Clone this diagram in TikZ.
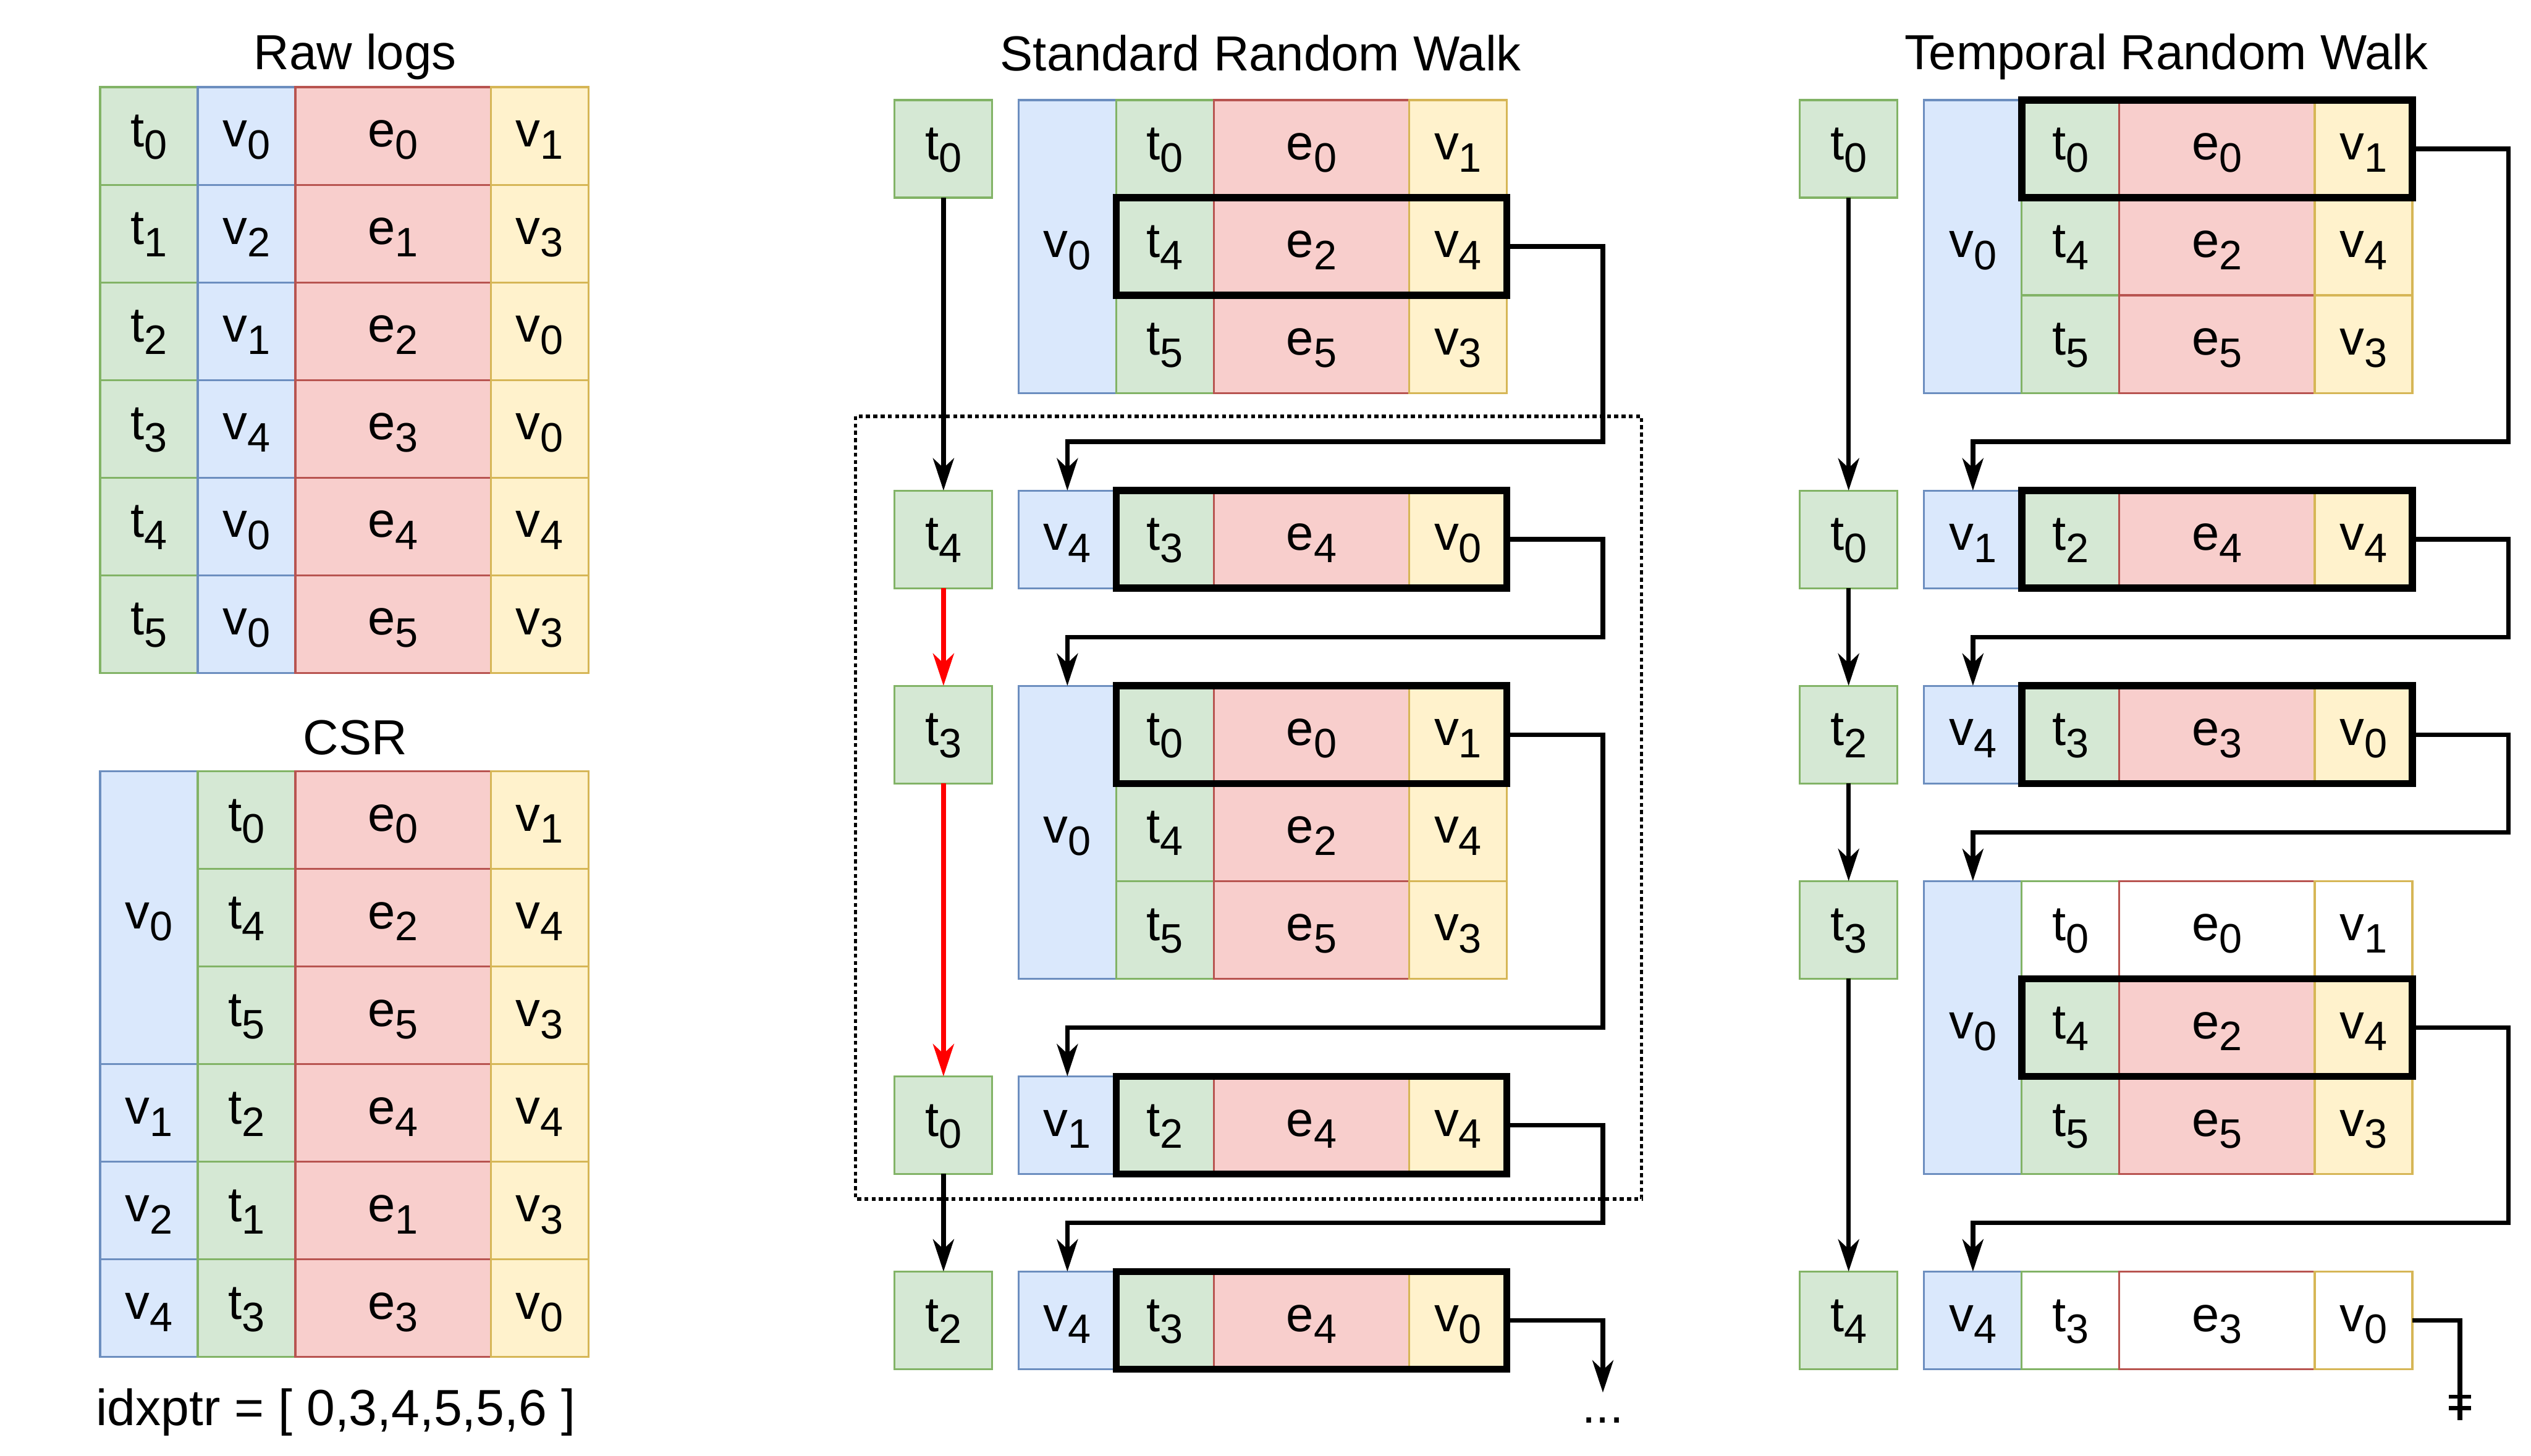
\documentclass[tikz,border=0pt]{standalone}
\usepackage{fontspec}
\setmainfont{Liberation Sans}
\usetikzlibrary{arrows.meta}

\definecolor{tfill}{HTML}{D5E8D4}
\definecolor{tline}{HTML}{82B366}
\definecolor{vfill}{HTML}{DAE8FC}
\definecolor{vline}{HTML}{6C8EBF}
\definecolor{efill}{HTML}{F8CECC}
\definecolor{eline}{HTML}{B85450}
\definecolor{ufill}{HTML}{FFF2CC}
\definecolor{uline}{HTML}{D6B656}

\newcommand{\lab}[2]{#1{\fontsize{25.5}{26}\selectfont\raisebox{-7.5pt}{#2}}}

\tikzset{
  cell/.style={rectangle, draw, line width=1.2pt, inner sep=0pt, outer sep=0pt,
    minimum width=60.5pt, minimum height=60.5pt, text height=21.5pt, text depth=8pt,
    font=\fontsize{30.5}{36}\selectfont},
  tcell/.style={cell, fill=tfill, draw=tline},
  scell/.style={cell, fill=vfill, draw=vline},
  ecell/.style={cell, fill=efill, draw=eline, minimum width=121pt},
  dcell/.style={cell, fill=ufill, draw=uline},
  hlbox/.style={rectangle, draw=black, line width=4.4pt, inner sep=0pt, outer sep=0pt,
    minimum width=242pt, minimum height=60.5pt},
  conn/.style={line width=2.8pt, -{Stealth[length=20pt,width=13pt,inset=6pt]}},
  title/.style={font=\fontsize{30.5}{36}\selectfont},
  dotframe/.style={line width=2pt, dash pattern=on 2.5pt off 2pt}
}

\begin{document}
\begin{tikzpicture}[x=1pt, y=-1pt]
\useasboundingbox (0,0) rectangle (1568,902);

% Titres
\node[title] (rawtitle) at (220,35) {Raw logs};
\node[title] (csrtitle) at (220,457) {CSR};
\node[title] (srwtitle) at (781,33) {Standard Random Walk};
\node[title] (trwtitle) at (1342,35) {Temporal Random Walk};

% Raw logs
\node[tcell] (r1t) at (92.25,84.25) {\lab{t}{0}};  \node[scell] (r1s) at (152.75,84.25) {\lab{v}{0}};
\node[ecell] (r1e) at (243.5,84.25) {\lab{e}{0}};  \node[dcell] (r1d) at (334.25,84.25) {\lab{v}{1}};
\node[tcell] (r2t) at (92.25,144.75) {\lab{t}{1}}; \node[scell] (r2s) at (152.75,144.75) {\lab{v}{2}};
\node[ecell] (r2e) at (243.5,144.75) {\lab{e}{1}}; \node[dcell] (r2d) at (334.25,144.75) {\lab{v}{3}};
\node[tcell] (r3t) at (92.25,205.25) {\lab{t}{2}}; \node[scell] (r3s) at (152.75,205.25) {\lab{v}{1}};
\node[ecell] (r3e) at (243.5,205.25) {\lab{e}{2}}; \node[dcell] (r3d) at (334.25,205.25) {\lab{v}{0}};
\node[tcell] (r4t) at (92.25,265.75) {\lab{t}{3}}; \node[scell] (r4s) at (152.75,265.75) {\lab{v}{4}};
\node[ecell] (r4e) at (243.5,265.75) {\lab{e}{3}}; \node[dcell] (r4d) at (334.25,265.75) {\lab{v}{0}};
\node[tcell] (r5t) at (92.25,326.25) {\lab{t}{4}}; \node[scell] (r5s) at (152.75,326.25) {\lab{v}{0}};
\node[ecell] (r5e) at (243.5,326.25) {\lab{e}{4}}; \node[dcell] (r5d) at (334.25,326.25) {\lab{v}{4}};
\node[tcell] (r6t) at (92.25,386.75) {\lab{t}{5}}; \node[scell] (r6s) at (152.75,386.75) {\lab{v}{0}};
\node[ecell] (r6e) at (243.5,386.75) {\lab{e}{5}}; \node[dcell] (r6d) at (334.25,386.75) {\lab{v}{3}};

% CSR
\node[scell, minimum height=181.5pt] (c1s) at (92.25,568.75) {\lab{v}{0}};
\node[tcell] (c1t) at (152.75,508.25) {\lab{t}{0}}; \node[ecell] (c1e) at (243.5,508.25) {\lab{e}{0}}; \node[dcell] (c1d) at (334.25,508.25) {\lab{v}{1}};
\node[tcell] (c2t) at (152.75,568.75) {\lab{t}{4}}; \node[ecell] (c2e) at (243.5,568.75) {\lab{e}{2}}; \node[dcell] (c2d) at (334.25,568.75) {\lab{v}{4}};
\node[tcell] (c3t) at (152.75,629.25) {\lab{t}{5}}; \node[ecell] (c3e) at (243.5,629.25) {\lab{e}{5}}; \node[dcell] (c3d) at (334.25,629.25) {\lab{v}{3}};
\node[scell] (c4s) at (92.25,689.75) {\lab{v}{1}};
\node[tcell] (c4t) at (152.75,689.75) {\lab{t}{2}}; \node[ecell] (c4e) at (243.5,689.75) {\lab{e}{4}}; \node[dcell] (c4d) at (334.25,689.75) {\lab{v}{4}};
\node[scell] (c5s) at (92.25,750.25) {\lab{v}{2}};
\node[tcell] (c5t) at (152.75,750.25) {\lab{t}{1}}; \node[ecell] (c5e) at (243.5,750.25) {\lab{e}{1}}; \node[dcell] (c5d) at (334.25,750.25) {\lab{v}{3}};
\node[scell] (c6s) at (92.25,810.75) {\lab{v}{4}};
\node[tcell] (c6t) at (152.75,810.75) {\lab{t}{3}}; \node[ecell] (c6e) at (243.5,810.75) {\lab{e}{3}}; \node[dcell] (c6d) at (334.25,810.75) {\lab{v}{0}};
\node[title, font=\fontsize{31.5}{36}\selectfont] (idxptr) at (208,875) {idxptr = [ 0,3,4,5,5,6 ]};

% Standard Random Walk : temps
\node[tcell] (mw1) at (584.5,92.25) {\lab{t}{0}};
\node[tcell] (mw2) at (584.5,334.25) {\lab{t}{4}};
\node[tcell] (mw3) at (584.5,455.25) {\lab{t}{3}};
\node[tcell] (mw4) at (584.5,697.25) {\lab{t}{0}};
\node[tcell] (mw5) at (584.5,818.25) {\lab{t}{2}};

% Standard Random Walk : voisins
\node[scell, minimum height=181.5pt] (m1s) at (661.25,152.75) {\lab{v}{0}};
\node[tcell] (m1t1) at (721.75,92.25) {\lab{t}{0}};  \node[ecell] (m1e1) at (812.5,92.25) {\lab{e}{0}};  \node[dcell] (m1d1) at (903.25,92.25) {\lab{v}{1}};
\node[tcell] (m1t2) at (721.75,152.75) {\lab{t}{4}}; \node[ecell] (m1e2) at (812.5,152.75) {\lab{e}{2}}; \node[dcell] (m1d2) at (903.25,152.75) {\lab{v}{4}};
\node[tcell] (m1t3) at (721.75,213.25) {\lab{t}{5}}; \node[ecell] (m1e3) at (812.5,213.25) {\lab{e}{5}}; \node[dcell] (m1d3) at (903.25,213.25) {\lab{v}{3}};
\node[hlbox] (m1h) at (812.5,152.75) {};

\node[scell] (m2s) at (661.25,334.25) {\lab{v}{4}};
\node[tcell] (m2t1) at (721.75,334.25) {\lab{t}{3}}; \node[ecell] (m2e1) at (812.5,334.25) {\lab{e}{4}}; \node[dcell] (m2d1) at (903.25,334.25) {\lab{v}{0}};
\node[hlbox] (m2h) at (812.5,334.25) {};

\node[scell, minimum height=181.5pt] (m3s) at (661.25,515.75) {\lab{v}{0}};
\node[tcell] (m3t1) at (721.75,455.25) {\lab{t}{0}}; \node[ecell] (m3e1) at (812.5,455.25) {\lab{e}{0}}; \node[dcell] (m3d1) at (903.25,455.25) {\lab{v}{1}};
\node[tcell] (m3t2) at (721.75,515.75) {\lab{t}{4}}; \node[ecell] (m3e2) at (812.5,515.75) {\lab{e}{2}}; \node[dcell] (m3d2) at (903.25,515.75) {\lab{v}{4}};
\node[tcell] (m3t3) at (721.75,576.25) {\lab{t}{5}}; \node[ecell] (m3e3) at (812.5,576.25) {\lab{e}{5}}; \node[dcell] (m3d3) at (903.25,576.25) {\lab{v}{3}};
\node[hlbox] (m3h) at (812.5,455.25) {};

\node[scell] (m4s) at (661.25,697.25) {\lab{v}{1}};
\node[tcell] (m4t1) at (721.75,697.25) {\lab{t}{2}}; \node[ecell] (m4e1) at (812.5,697.25) {\lab{e}{4}}; \node[dcell] (m4d1) at (903.25,697.25) {\lab{v}{4}};
\node[hlbox] (m4h) at (812.5,697.25) {};

\node[scell] (m5s) at (661.25,818.25) {\lab{v}{4}};
\node[tcell] (m5t1) at (721.75,818.25) {\lab{t}{3}}; \node[ecell] (m5e1) at (812.5,818.25) {\lab{e}{4}}; \node[dcell] (m5d1) at (903.25,818.25) {\lab{v}{0}};
\node[hlbox] (m5h) at (812.5,818.25) {};

\draw[dotframe] (530,258) rectangle (1017,743);
\coordinate (mend) at (993,863);
\node[title] (dots) at (993,880) {...};

% Temporal Random Walk : temps
\node[tcell] (pw1) at (1145.25,92.25) {\lab{t}{0}};
\node[tcell] (pw2) at (1145.25,334.25) {\lab{t}{0}};
\node[tcell] (pw3) at (1145.25,455.25) {\lab{t}{2}};
\node[tcell] (pw4) at (1145.25,576.25) {\lab{t}{3}};
\node[tcell] (pw5) at (1145.25,818.25) {\lab{t}{4}};

% Temporal Random Walk : voisins
\node[scell, minimum height=181.5pt] (p1s) at (1222.25,152.75) {\lab{v}{0}};
\node[tcell] (p1t1) at (1282.75,92.25) {\lab{t}{0}};  \node[ecell] (p1e1) at (1373.5,92.25) {\lab{e}{0}};  \node[dcell] (p1d1) at (1464.25,92.25) {\lab{v}{1}};
\node[tcell] (p1t2) at (1282.75,152.75) {\lab{t}{4}}; \node[ecell] (p1e2) at (1373.5,152.75) {\lab{e}{2}}; \node[dcell] (p1d2) at (1464.25,152.75) {\lab{v}{4}};
\node[tcell] (p1t3) at (1282.75,213.25) {\lab{t}{5}}; \node[ecell] (p1e3) at (1373.5,213.25) {\lab{e}{5}}; \node[dcell] (p1d3) at (1464.25,213.25) {\lab{v}{3}};
\node[hlbox] (p1h) at (1373.5,92.25) {};

\node[scell] (p2s) at (1222.25,334.25) {\lab{v}{1}};
\node[tcell] (p2t1) at (1282.75,334.25) {\lab{t}{2}}; \node[ecell] (p2e1) at (1373.5,334.25) {\lab{e}{4}}; \node[dcell] (p2d1) at (1464.25,334.25) {\lab{v}{4}};
\node[hlbox] (p2h) at (1373.5,334.25) {};

\node[scell] (p3s) at (1222.25,455.25) {\lab{v}{4}};
\node[tcell] (p3t1) at (1282.75,455.25) {\lab{t}{3}}; \node[ecell] (p3e1) at (1373.5,455.25) {\lab{e}{3}}; \node[dcell] (p3d1) at (1464.25,455.25) {\lab{v}{0}};
\node[hlbox] (p3h) at (1373.5,455.25) {};

\node[scell, minimum height=181.5pt] (p4s) at (1222.25,636.75) {\lab{v}{0}};
\node[tcell, fill=white] (p4t1) at (1282.75,576.25) {\lab{t}{0}}; \node[ecell, fill=white] (p4e1) at (1373.5,576.25) {\lab{e}{0}}; \node[dcell, fill=white] (p4d1) at (1464.25,576.25) {\lab{v}{1}};
\node[tcell] (p4t2) at (1282.75,636.75) {\lab{t}{4}}; \node[ecell] (p4e2) at (1373.5,636.75) {\lab{e}{2}}; \node[dcell] (p4d2) at (1464.25,636.75) {\lab{v}{4}};
\node[tcell] (p4t3) at (1282.75,697.25) {\lab{t}{5}}; \node[ecell] (p4e3) at (1373.5,697.25) {\lab{e}{5}}; \node[dcell] (p4d3) at (1464.25,697.25) {\lab{v}{3}};
\node[hlbox] (p4h) at (1373.5,636.75) {};

\node[scell] (p5s) at (1222.25,818.25) {\lab{v}{4}};
\node[tcell, fill=white] (p5t1) at (1282.75,818.25) {\lab{t}{3}}; \node[ecell, fill=white] (p5e1) at (1373.5,818.25) {\lab{e}{3}}; \node[dcell, fill=white] (p5d1) at (1464.25,818.25) {\lab{v}{0}};
\coordinate (pend) at (1524,880);

% Fleches
\draw[conn] (mw1) -- (mw2);
\draw[conn, red] (mw2) -- (mw3);
\draw[conn, red] (mw3) -- (mw4);
\draw[conn] (mw4) -- (mw5);
\draw[conn] (m1h.east) -- ++(59.5,0) |- ([yshift=30.25pt]m2s.north) -- (m2s.north);
\draw[conn] (m2h.east) -- ++(59.5,0) |- ([yshift=30.25pt]m3s.north) -- (m3s.north);
\draw[conn] (m3h.east) -- ++(59.5,0) |- ([yshift=30.25pt]m4s.north) -- (m4s.north);
\draw[conn] (m4h.east) -- ++(59.5,0) |- ([yshift=30.25pt]m5s.north) -- (m5s.north);
\draw[conn] (m5h.east) -| (mend);

\draw[conn] (pw1) -- (pw2);
\draw[conn] (pw2) -- (pw3);
\draw[conn] (pw3) -- (pw4);
\draw[conn] (pw4) -- (pw5);
\draw[conn] (p1h.east) -- ++(59.5,0) |- ([yshift=30.25pt]p2s.north) -- (p2s.north);
\draw[conn] (p2h.east) -- ++(59.5,0) |- ([yshift=30.25pt]p3s.north) -- (p3s.north);
\draw[conn] (p3h.east) -- ++(59.5,0) |- ([yshift=30.25pt]p4s.north) -- (p4s.north);
\draw[conn] (p4h.east) -- ++(59.5,0) |- ([yshift=30.25pt]p5s.north) -- (p5s.north);
\draw[line width=2.8pt] (p5d1.east) -| (pend);
\draw[line width=2.6pt] ([yshift=14.5pt]pend) ++(-7,0) -- ++(14,0);
\draw[line width=2.6pt] ([yshift=7.5pt]pend) ++(-7,0) -- ++(14,0);

\end{tikzpicture}
\end{document}
